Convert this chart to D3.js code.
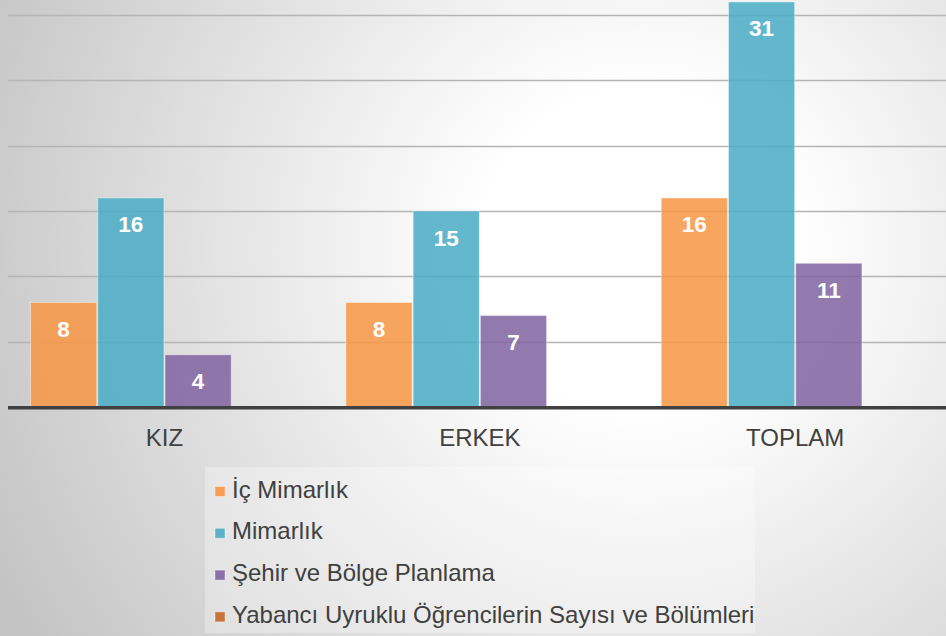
<!DOCTYPE html>
<html>
<head>
<meta charset="utf-8">
<script src="https://cdn.jsdelivr.net/npm/d3@7"></script>
<style>
html,body{margin:0;padding:0;overflow:hidden;background:#fff;}
svg{display:block;}
</style>
</head>
<body>
<svg id="chart" width="946" height="636"></svg>
<script>
const categories = ["KIZ", "ERKEK", "TOPLAM"];
const seriesNames = ["İç Mimarlık", "Mimarlık", "Şehir ve Bölge Planlama", "Yabancı Uyruklu Öğrencilerin Sayısı ve Bölümleri"];
const icMimarlik = [8, 8, 16];
const mimarlik = [16, 15, 31];
const sehirPlanlama = [4, 7, 11];
const yabanci = [null, null, null];
const seriesColors = ["#F79646", "#4BACC6", "#8064A2", "#C4682A"];
const yTicks = [5, 10, 15, 20, 25, 30];

const seriesValues = [icMimarlik, mimarlik, sehirPlanlama, yabanci];

const W = 946, H = 636;
const svg = d3.select("#chart");
const defs = svg.append("defs");
const grad = defs.append("radialGradient").attr("id", "bg")
  .attr("gradientUnits", "userSpaceOnUse")
  .attr("cx", 640).attr("cy", 250).attr("r", 720);
grad.append("stop").attr("offset", "0").attr("stop-color", "#ffffff");
grad.append("stop").attr("offset", "0.22").attr("stop-color", "#ffffff");
grad.append("stop").attr("offset", "1").attr("stop-color", "#c4c4c4");
svg.append("rect").attr("width", W).attr("height", H).attr("fill", "url(#bg)");

const baseY = 407;
const y = d3.scaleLinear().domain([0, 30]).range([baseY, 15]);
const x0 = d3.scaleBand().domain(categories).range([8, 951.7]).paddingInner(0.147).paddingOuter(0.0698);
const x1 = d3.scaleBand().domain(d3.range(seriesNames.length)).range([0, x0.bandwidth()]);

// gridlines
svg.append("g").selectAll("line").data(yTicks).join("line")
  .attr("x1", 8).attr("x2", W)
  .attr("y1", d => Math.round(y(d)) + 0.5).attr("y2", d => Math.round(y(d)) + 0.5)
  .attr("stroke", "#b5b5b5").attr("stroke-width", 1.6);

// bars
const groups = svg.append("g").selectAll("g").data(categories).join("g")
  .attr("transform", d => `translate(${x0(d)},0)`);

const barData = (c, ci) => seriesValues.map((vals, si) => ({si, v: vals[ci]})).filter(d => d.v != null);

groups.each(function(c, ci) {
  const g = d3.select(this);
  const data = barData(c, ci);
  g.selectAll("rect").data(data).join("rect")
    .attr("x", d => x1(d.si) + 0.5)
    .attr("width", x1.bandwidth() - 1)
    .attr("y", d => y(d.v))
    .attr("height", d => baseY - y(d.v))
    .attr("fill", d => seriesColors[d.si])
    .attr("fill-opacity", 0.86)
    .attr("stroke", "#ffffff").attr("stroke-opacity", 0.45).attr("stroke-width", 1);
  g.selectAll("text").data(data).join("text")
    .attr("x", d => x1(d.si) + x1.bandwidth() / 2)
    .attr("y", d => y(d.v) + 34.5)
    .attr("text-anchor", "middle")
    .attr("font-family", "'Liberation Sans', Arial, sans-serif")
    .attr("font-weight", "bold")
    .attr("font-size", 22.5)
    .attr("fill", "#ffffff")
    .text(d => d.v);
});

// baseline axis
svg.append("line").attr("x1", 8).attr("x2", W).attr("y1", baseY + 0.8).attr("y2", baseY + 0.8)
  .attr("stroke", "#404040").attr("stroke-width", 3.5);

// category labels
svg.append("g").selectAll("text").data(categories).join("text")
  .attr("x", d => x0(d) + x0.bandwidth() / 2)
  .attr("y", 446)
  .attr("text-anchor", "middle")
  .attr("font-family", "'Liberation Sans', Arial, sans-serif")
  .attr("font-size", 24)
  .attr("fill", "#404040")
  .text(d => d);

// legend
svg.append("rect").attr("x", 205).attr("y", 467).attr("width", 550).attr("height", 166)
  .attr("fill", "#ffffff").attr("fill-opacity", 0.3);
const leg = svg.append("g").selectAll("g").data(seriesNames).join("g")
  .attr("transform", (d, i) => `translate(0,${497.5 + i * 41.8})`);
leg.append("rect").attr("x", 215).attr("y", -11).attr("width", 10).attr("height", 10)
  .attr("fill", (d, i) => seriesColors[i]).attr("fill-opacity", 0.9)
  .attr("stroke", "#ffffff").attr("stroke-opacity", 0.4).attr("stroke-width", 1);
leg.append("text").attr("x", 232).attr("y", 0)
  .attr("font-family", "'Liberation Sans', Arial, sans-serif")
  .attr("font-size", 24)
  .attr("fill", "#404040")
  .text(d => d);
</script>
</body>
</html>
